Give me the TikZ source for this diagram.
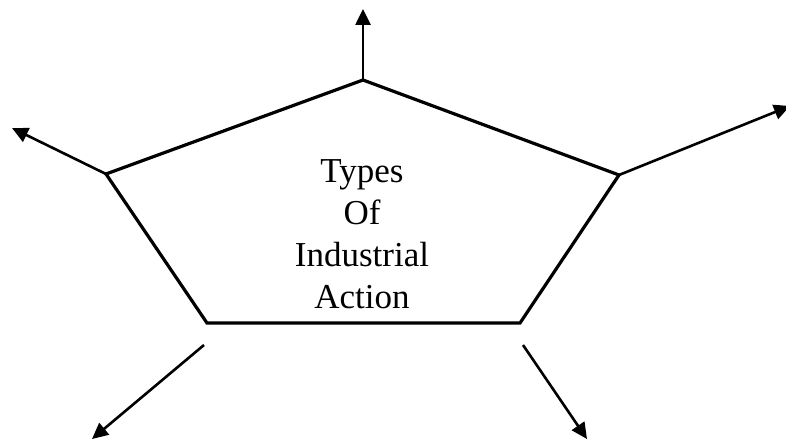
\documentclass[tikz,border=0pt]{standalone}
\usepackage{fontspec}
\setmainfont{Liberation Serif}
\usetikzlibrary{arrows.meta}
\begin{document}
\begin{tikzpicture}[x=1pt,y=-1pt,
  edge/.style={line width=3.2pt,line join=miter},
  arr/.style={line width=2.6pt,-{Triangle[length=16pt,width=15pt]}},
  lbl/.style={align=center,font=\fontsize{35}{41.7}\selectfont,inner sep=0pt}]
\useasboundingbox (0,0) rectangle (786,441);
\clip (0,0) rectangle (786,441);
\coordinate (T) at (363,80);
\coordinate (R) at (619,175);
\coordinate (BR) at (520,323);
\coordinate (BL) at (207,323);
\coordinate (L) at (106,174);
\coordinate (tT) at (363,9);
\coordinate (tR) at (790,106);
\coordinate (tL) at (12,128);
\coordinate (sBL) at (204,345);
\coordinate (tBL) at (92,439);
\coordinate (sBR) at (523,345);
\coordinate (tBR) at (587,439);
\draw[edge] (T) -- (R) -- (BR) -- (BL) -- (L) -- cycle;
\node[lbl,anchor=base] (title) at (362,308) {Types\\Of\\Industrial\\Action};
\draw[arr] (T) -- (tT);
\draw[arr] (R) -- (tR);
\draw[arr] (L) -- (tL);
\draw[arr] (sBL) -- (tBL);
\draw[arr] (sBR) -- (tBR);
\end{tikzpicture}
\end{document}
